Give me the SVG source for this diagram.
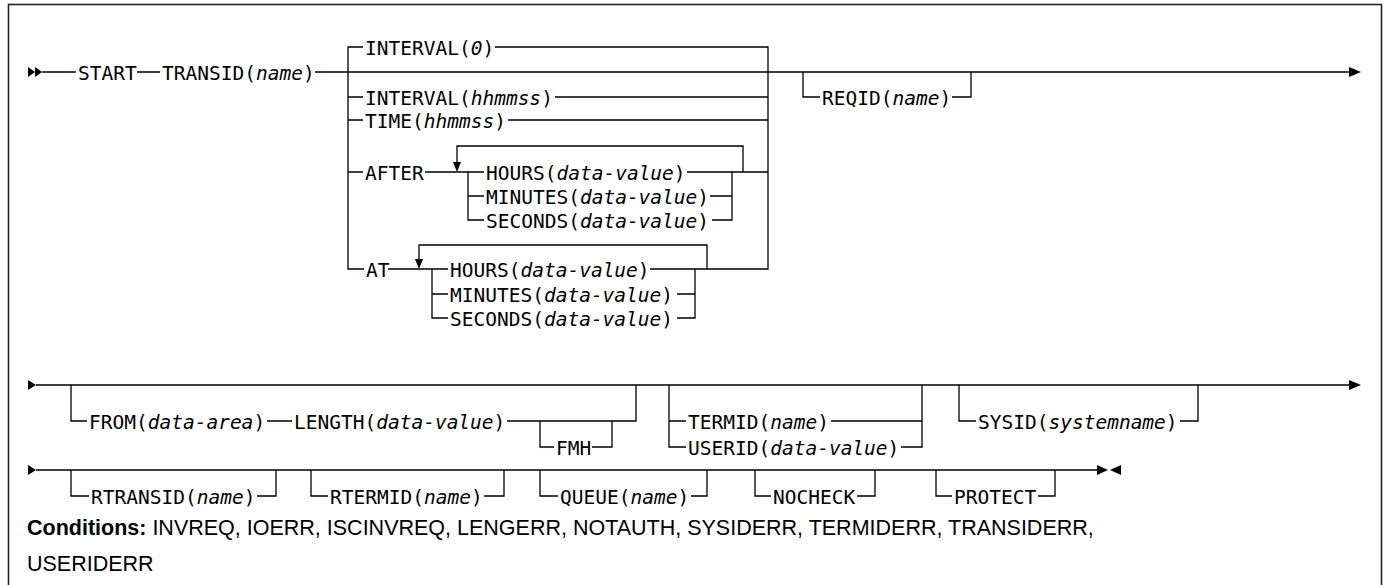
<svg xmlns="http://www.w3.org/2000/svg" width="1385" height="585" viewBox="0 0 1385 585">
<style>
.t{font-family:"DejaVu Sans Mono","Liberation Mono",monospace;font-size:19.5px;fill:#000}
.i{font-style:italic}
.c{font-family:"Liberation Sans",Arial,sans-serif;font-size:21.5px;fill:#000}
.l{fill:none;stroke:#000;stroke-width:1.3}
.a{fill:#000;stroke:none}
</style>
<rect x="8.5" y="4.5" width="1373" height="620" fill="#fff" stroke="#222" stroke-width="1.6"/>
<g id="connectors">
<path class="l" d="M42,72H76M137,72H160M315,72H1350"/>
<path class="l" d="M363,47H348V269H364M495,47H768V269H650M348,97H363M555,97H768M348,120H363M508,120H768M348,172H363M425,172H484M468,172V220H484M468,196H484M687,172H768M732,172V220H712M710,196H732M743,172V146H457V162"/>
<path class="l" d="M388,269H448M432,269V318H448M432,294H448M695,269V318H677M677,294H695M707,269V245H419V259"/>
<path class="l" d="M803,72V97H820M952,97H971V72"/>
<path class="l" d="M36,385H1350M71,385V421H87M267,421H292M507,421H636V385M540,421V447H554M592,447H612V421M669,385V447H686M669,421H686M831,421H922M901,447H922V385M959,385V421H976M1180,421H1198V385"/>
<path class="l" d="M36,470H1098M71,470V496H89M257,496H276V470M311,470V496H328M484,496H504V470M540,470V496H558M691,496H707V470M755,470V496H771M857,496H875V470M936,470V496H952M1038,496H1055V470"/>
<polygon class="a" points="28,67 35,72 28,77"/>
<polygon class="a" points="35,67 42,72 35,77"/>
<polygon class="a" points="1349,67 1361,72 1349,77"/>
<polygon class="a" points="453,162 461,162 457,172"/>
<polygon class="a" points="415,259 423,259 419,269"/>
<polygon class="a" points="28,380 36,385 28,390"/>
<polygon class="a" points="1349,380 1361,385 1349,390"/>
<polygon class="a" points="28,465 36,470 28,475"/>
<polygon class="a" points="1097,465 1108,470 1097,475"/>
<polygon class="a" points="1121,465 1110,470 1121,475"/>
</g>
<g id="start"><text class="t" x="78" y="80">START</text></g>
<g id="transid"><text class="t" x="162" y="80">TRANSID(<tspan class="i">name</tspan>)</text></g>
<g id="interval0"><text class="t" x="365" y="55">INTERVAL(<tspan class="i">0</tspan>)</text></g>
<g id="intervalhh"><text class="t" x="365" y="105">INTERVAL(<tspan class="i">hhmmss</tspan>)</text></g>
<g id="time"><text class="t" x="365" y="128">TIME(<tspan class="i">hhmmss</tspan>)</text></g>
<g id="after"><text class="t" x="365" y="180">AFTER</text></g>
<g id="after-hours"><text class="t" x="486" y="180">HOURS(<tspan class="i">data-value</tspan>)</text></g>
<g id="after-minutes"><text class="t" x="486" y="204">MINUTES(<tspan class="i">data-value</tspan>)</text></g>
<g id="after-seconds"><text class="t" x="486" y="228">SECONDS(<tspan class="i">data-value</tspan>)</text></g>
<g id="at"><text class="t" x="366" y="277">AT</text></g>
<g id="at-hours"><text class="t" x="450" y="277">HOURS(<tspan class="i">data-value</tspan>)</text></g>
<g id="at-minutes"><text class="t" x="450" y="302">MINUTES(<tspan class="i">data-value</tspan>)</text></g>
<g id="at-seconds"><text class="t" x="450" y="326">SECONDS(<tspan class="i">data-value</tspan>)</text></g>
<g id="reqid"><text class="t" x="822" y="105">REQID(<tspan class="i">name</tspan>)</text></g>
<g id="from"><text class="t" x="89" y="429">FROM(<tspan class="i">data-area</tspan>)</text></g>
<g id="length"><text class="t" x="294" y="429">LENGTH(<tspan class="i">data-value</tspan>)</text></g>
<g id="fmh"><text class="t" x="556" y="455">FMH</text></g>
<g id="termid"><text class="t" x="688" y="429">TERMID(<tspan class="i">name</tspan>)</text></g>
<g id="userid"><text class="t" x="688" y="455">USERID(<tspan class="i">data-value</tspan>)</text></g>
<g id="sysid"><text class="t" x="978" y="429">SYSID(<tspan class="i">systemname</tspan>)</text></g>
<g id="rtransid"><text class="t" x="91" y="504">RTRANSID(<tspan class="i">name</tspan>)</text></g>
<g id="rtermid"><text class="t" x="330" y="504">RTERMID(<tspan class="i">name</tspan>)</text></g>
<g id="queue"><text class="t" x="560" y="504">QUEUE(<tspan class="i">name</tspan>)</text></g>
<g id="nocheck"><text class="t" x="773" y="504">NOCHECK</text></g>
<g id="protect"><text class="t" x="954" y="504">PROTECT</text></g>
<g id="conditions"><text class="c" x="27" y="535"><tspan font-weight="bold">Conditions:</tspan> INVREQ, IOERR, ISCINVREQ, LENGERR, NOTAUTH, SYSIDERR, TERMIDERR, TRANSIDERR,</text><text class="c" x="27" y="571">USERIDERR</text></g>
</svg>
